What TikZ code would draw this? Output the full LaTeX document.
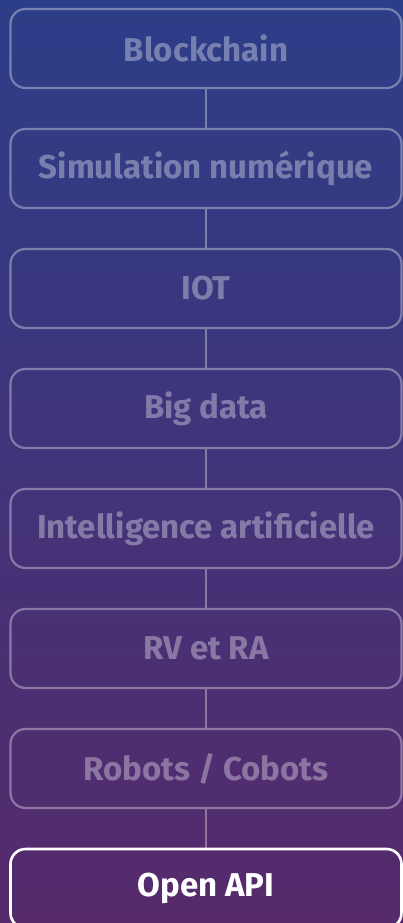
\documentclass[tikz,border=0pt]{standalone}
\usepackage{fontspec}
\setmainfont{Fira Sans}
\definecolor{bgtop}{RGB}{44,62,136}
\definecolor{bgbot}{RGB}{86,42,107}
\tikzset{
  techbox/.style={draw=white, draw opacity=0.35, line width=2.2pt, rounded corners=15pt,
    minimum width=391pt, minimum height=79pt, inner sep=0pt,
    text=white, text opacity=0.35, font=\fontsize{33}{38}\selectfont\bfseries},
  activebox/.style={techbox, draw opacity=1, text opacity=1, line width=2.6pt},
  link/.style={draw=white, draw opacity=0.35, line width=2pt}
}
\begin{document}
\begin{tikzpicture}[x=1pt,y=-1pt]
\shade[top color=bgtop, bottom color=bgbot] (0,0) rectangle (403,923);
\useasboundingbox (0,0) rectangle (403,923);
\node[techbox] (b1) at (206,48.5) {Blockchain};
\node[techbox] (b2) at (206,168.5) {Simulation numérique};
\node[techbox] (b3) at (206,288.5) {IOT};
\node[techbox] (b4) at (206,408.5) {Big data};
\node[techbox] (b5) at (206,528.5) {Intelligence artificielle};
\node[techbox] (b6) at (206,648.5) {RV et RA};
\node[techbox] (b7) at (206,768.5) {Robots / Cobots};
\node[activebox] (b8) at (206,888.5) {Open API};
\foreach \a/\b in {b1/b2,b2/b3,b3/b4,b4/b5,b5/b6,b6/b7,b7/b8}
  \draw[link] (\a.south) -- (\b.north);
\end{tikzpicture}
\end{document}
